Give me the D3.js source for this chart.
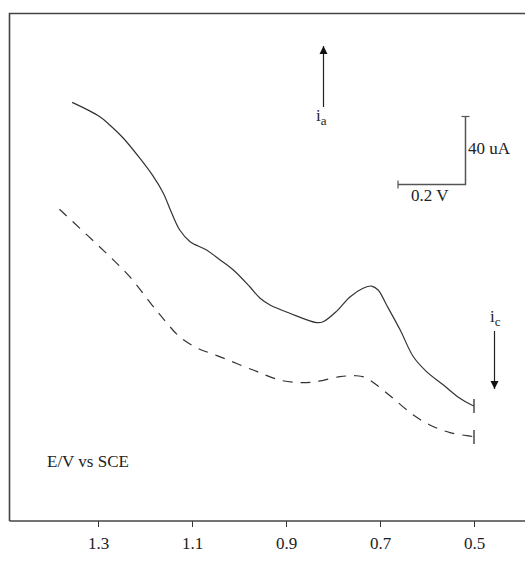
<!DOCTYPE html>
<html>
<head>
<meta charset="utf-8">
<script src="https://cdn.jsdelivr.net/npm/d3@7"></script>
<style>
  html, body { margin: 0; padding: 0; background: #fff; }
  svg { display: block; }
  text { font-family: "Liberation Serif", "DejaVu Serif", serif; fill: #222; }
</style>
</head>
<body>
<svg id="chart" width="525" height="564"></svg>
<script>
// Potential (V vs SCE) and current (uA) for the two sweeps
const potentialSolid = [1.355, 1.296, 1.275, 1.246, 1.211, 1.182, 1.161, 1.143, 1.126, 1.104, 1.069, 1.040, 1.012, 0.977, 0.955, 0.934, 0.892, 0.835, 0.821, 0.792, 0.764, 0.736, 0.718, 0.704, 0.686, 0.657, 0.629, 0.601, 0.565, 0.530, 0.505, 0.500];
const currentSolid   = [242.7, 234.4, 229.6, 221.9, 210.3, 199.6, 190.0, 178.4, 168.7, 161.9, 157.1, 151.3, 145.5, 135.8, 129.1, 125.2, 120.4, 115.0, 115.5, 121.7, 129.9, 134.9, 136.2, 133.9, 125.2, 110.7, 95.2, 86.6, 78.8, 71.1, 67.2, 66.7];

const potentialDashed = [1.382, 1.271, 1.232, 1.185, 1.157, 1.126, 1.089, 1.047, 0.970, 0.913, 0.870, 0.835, 0.785, 0.750, 0.732, 0.707, 0.672, 0.629, 0.594, 0.551, 0.502, 0.500];
const currentDashed   = [180.7, 152.3, 141.5, 125.2, 115.9, 106.7, 100.3, 95.9, 87.5, 81.7, 80.2, 80.8, 83.7, 84.2, 83.3, 78.8, 71.1, 61.4, 55.7, 51.2, 48.9, 48.7];

const tickValues = [1.3, 1.1, 0.9, 0.7, 0.5];
const tickLabels = ["1.3", "1.1", "0.9", "0.7", "0.5"];

const svg = d3.select("#chart");
const W = 525;
const frameLeft = 9.5, frameTop = 13.5, frameBottom = 521;

// Potential axis runs from high (left) to low (right)
const x = d3.scaleLinear().domain([1.3, 0.5]).range([98, 474]);
// Current scale: 40 uA spans 69 px
const y = d3.scaleLinear().domain([0, 40]).range([frameBottom, frameBottom - 69]);

// Frame: top and left borders
svg.append("path")
  .attr("d", `M${frameLeft},${frameBottom} V${frameTop} H${W}`)
  .attr("fill", "none").attr("stroke", "#444").attr("stroke-width", 1.6);

// Bottom axis
const axis = d3.axisBottom(x)
  .tickValues(tickValues)
  .tickFormat((d, i) => tickLabels[i])
  .tickSize(6)
  .tickSizeOuter(0);
const gx = svg.append("g").attr("transform", `translate(0,${frameBottom})`).call(axis);
gx.select(".domain").remove();
gx.selectAll(".tick line").attr("stroke", "#333").attr("stroke-width", 1);
gx.selectAll(".tick text")
  .attr("font-family", "Liberation Serif, serif")
  .attr("font-size", 17).attr("fill", "#222").attr("y", 12).attr("dy", "0.95em");
svg.append("line")
  .attr("x1", frameLeft).attr("x2", W)
  .attr("y1", frameBottom).attr("y2", frameBottom)
  .attr("stroke", "#444").attr("stroke-width", 1.6);

// Curves
const line = d3.line()
  .x(d => x(d[0])).y(d => y(d[1]))
  .curve(d3.curveCatmullRom.alpha(0.5));

const solid = potentialSolid.map((v, i) => [v, currentSolid[i]]);
const dashed = potentialDashed.map((v, i) => [v, currentDashed[i]]);

svg.append("path").datum(solid).attr("d", line)
  .attr("fill", "none").attr("stroke", "#333").attr("stroke-width", 1.2);
svg.append("path").datum(dashed).attr("d", line)
  .attr("fill", "none").attr("stroke", "#333").attr("stroke-width", 1.2)
  .attr("stroke-dasharray", "10,8");

// End caps at the last potential
function endCap(d, half) {
  svg.append("line")
    .attr("x1", x(d[0])).attr("x2", x(d[0]))
    .attr("y1", y(d[1]) - half).attr("y2", y(d[1]) + half)
    .attr("stroke", "#555").attr("stroke-width", 1.6);
}
endCap(solid[solid.length - 1], 7);
endCap(dashed[dashed.length - 1], 7);

// Arrowhead marker
svg.append("defs").append("marker")
  .attr("id", "arrow").attr("viewBox", "0 0 10 10")
  .attr("refX", 10).attr("refY", 5)
  .attr("markerWidth", 8).attr("markerHeight", 10)
  .attr("markerUnits", "userSpaceOnUse")
  .attr("orient", "auto")
  .append("path").attr("d", "M0,0 L10,5 L0,10 Z").attr("fill", "#111");

// Anodic current arrow (up)
svg.append("line")
  .attr("x1", 323.5).attr("x2", 323.5).attr("y1", 107).attr("y2", 46)
  .attr("stroke", "#222").attr("stroke-width", 1.2).attr("marker-end", "url(#arrow)");
const ia = svg.append("text").attr("x", 316).attr("y", 121).attr("font-size", 17);
ia.append("tspan").text("i");
ia.append("tspan").attr("font-size", 13).attr("dy", 4).text("a");

// Cathodic current arrow (down)
svg.append("line")
  .attr("x1", 494.5).attr("x2", 494.5).attr("y1", 331).attr("y2", 389)
  .attr("stroke", "#222").attr("stroke-width", 1.2).attr("marker-end", "url(#arrow)");
const ic = svg.append("text").attr("x", 490).attr("y", 322).attr("font-size", 17);
ic.append("tspan").text("i");
ic.append("tspan").attr("font-size", 13).attr("dy", 4).text("c");

// Scale bar: 0.2 V horizontal, 40 uA vertical
const barX0 = 398, barX1 = 465.5, barY = 184.5, barTop = 116.5;
svg.append("path")
  .attr("d", `M${barX0},${barY} H${barX1} V${barTop}`)
  .attr("fill", "none").attr("stroke", "#555").attr("stroke-width", 1.5);
svg.append("line").attr("x1", barX0).attr("x2", barX0).attr("y1", barY - 4).attr("y2", barY + 4)
  .attr("stroke", "#555").attr("stroke-width", 1.2);
svg.append("line").attr("x1", barX1 - 4).attr("x2", barX1 + 4).attr("y1", barTop).attr("y2", barTop)
  .attr("stroke", "#555").attr("stroke-width", 1.2);
svg.append("text").attr("x", 468).attr("y", 154).attr("font-size", 17).text("40 uA");
svg.append("text").attr("x", 411).attr("y", 201).attr("font-size", 17).text("0.2 V");

// Axis caption
svg.append("text").attr("x", 47).attr("y", 467).attr("font-size", 17).text("E/V vs SCE");
</script>
</body>
</html>
